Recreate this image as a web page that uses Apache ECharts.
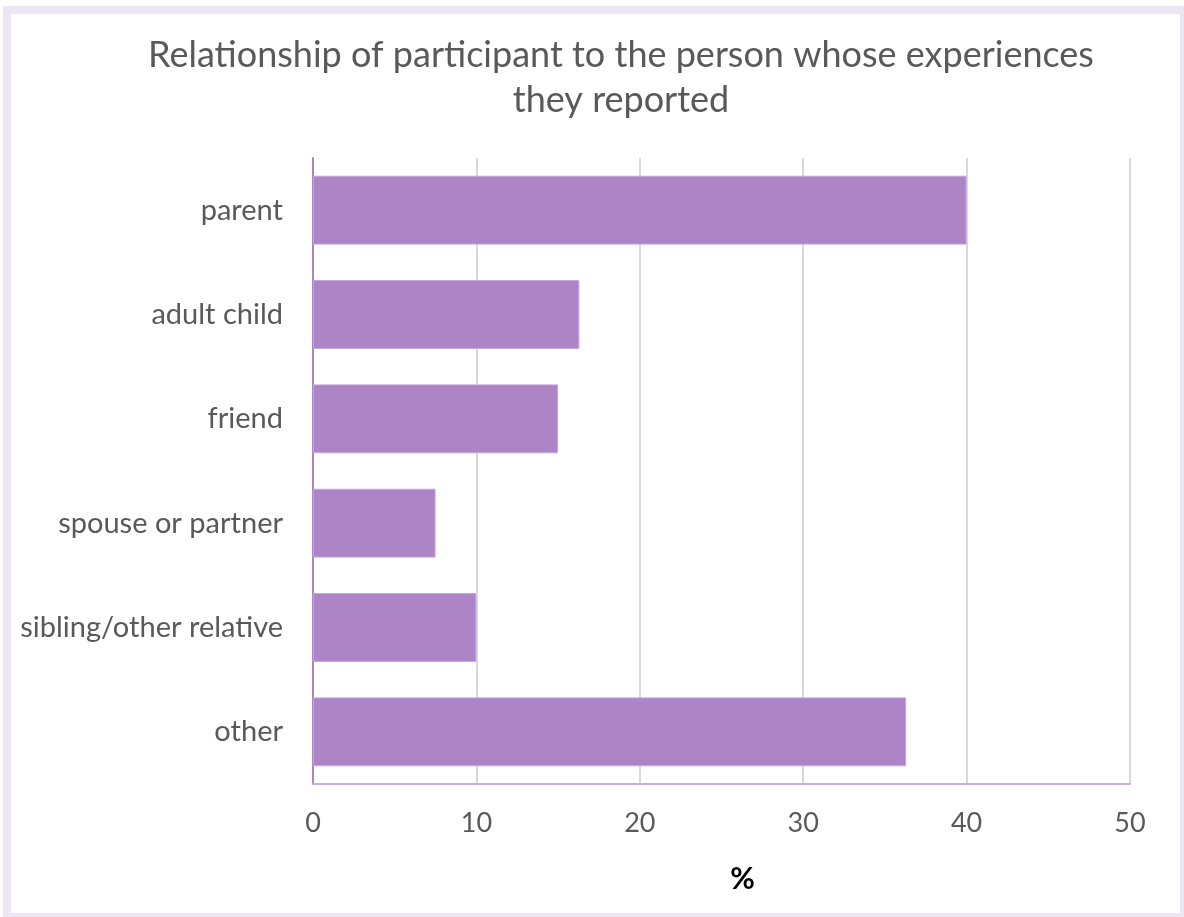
<!DOCTYPE html>
<html>
<head>
<meta charset="utf-8">
<script src="https://cdn.jsdelivr.net/npm/echarts@6/dist/echarts.min.js"></script>
<style>
  html, body { margin: 0; padding: 0; background: #ffffff; }
  #chart { width: 1184px; height: 917px; }
</style>
</head>
<body>
<div id="chart"></div>
<script>
// Relationship categories, top to bottom
const categories = ['parent', 'adult child', 'friend', 'spouse or partner', 'sibling/other relative', 'other'];
// Share of participants (%)
const percentages = [40.0, 16.3, 15.0, 7.5, 10.0, 36.3];
// Value axis ticks
const axisMin = 0;
const axisMax = 50;
const axisStep = 10;

const FONT = 'Lato, "Open Sans", sans-serif';
const chart = echarts.init(document.getElementById('chart'), null, { renderer: 'canvas' });

chart.setOption({
  backgroundColor: '#ffffff',
  animation: false,
  graphic: [{
    type: 'rect',
    silent: true,
    shape: { x: 7, y: 10, width: 1177, height: 907 },
    style: { fill: 'none', stroke: '#ece6f2', lineWidth: 8 }
  }],
  title: {
    text: 'Relationship of participant to the person whose experiences\nthey reported',
    left: 616,
    textAlign: 'center',
    top: 28,
    textStyle: {
      fontFamily: FONT,
      fontSize: 36,
      fontWeight: 'normal',
      color: '#595959',
      lineHeight: 45
    }
  },
  grid: { left: 313, right: 54, top: 158, bottom: 133, containLabel: false },
  xAxis: {
    type: 'value',
    min: axisMin,
    max: axisMax,
    interval: axisStep,
    name: '%',
    nameLocation: 'middle',
    nameGap: 80,
    nameTextStyle: {
      fontFamily: FONT, fontSize: 30, fontWeight: 'bold', color: '#000000',
      padding: [0, 0, 0, 42]
    },
    axisLine: { show: true, lineStyle: { color: '#cbaedd', width: 2 } },
    axisTick: { show: false },
    axisLabel: { fontFamily: FONT, fontSize: 27, color: '#595959', margin: 26 },
    splitLine: { show: true, lineStyle: { color: '#d9d9d9', width: 2 } }
  },
  yAxis: {
    type: 'category',
    data: categories,
    inverse: true,
    axisLine: { show: true, lineStyle: { color: '#ad84c6', width: 2 } },
    axisTick: { show: false },
    axisLabel: { fontFamily: FONT, fontSize: 29, color: '#595959', margin: 30 },
    splitLine: { show: false }
  },
  series: [{
    type: 'bar',
    data: percentages,
    barCategoryGap: '34%',
    itemStyle: { color: '#ad84c6', borderColor: '#c6a5da', borderWidth: 1 }
  }]
});
</script>
</body>
</html>
